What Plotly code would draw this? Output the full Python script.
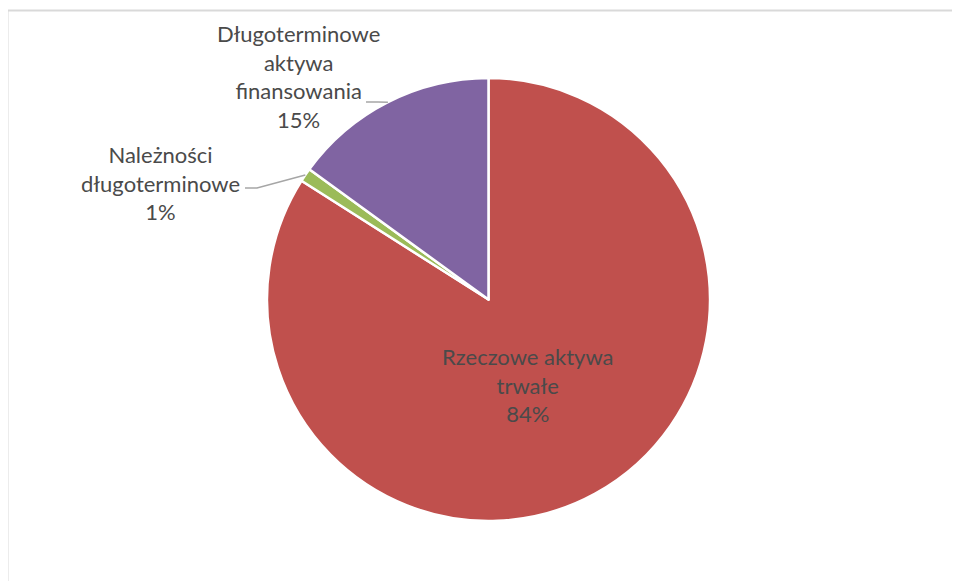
import math
import plotly.graph_objects as go

labels = ["Rzeczowe aktywa trwałe", "Należności długoterminowe", "Długoterminowe aktywa finansowania"]
label_text = ["Rzeczowe aktywa<br>trwałe", "Należności<br>długoterminowe", "Długoterminowe<br>aktywa<br>finansowania"]
values = [84, 1, 15]
colors = ["#C0504D", "#9BBB59", "#8064A2"]

# page body has an 8px margin; work in page px and shift into figure px
OFF = 8
W, H = 960 - OFF, 581 - OFF
cx, cy, r = 488.5 - OFF, 299.5 - OFF, 221.5

def px(x, y):
    return x / W, 1 - y / H

def pg(x, y):
    return px(x - OFF, y - OFF)

fig = go.Figure(go.Pie(
    labels=labels, values=values, sort=False, direction="clockwise", rotation=0,
    marker=dict(colors=colors, line=dict(color="white", width=2.5)),
    textinfo="none", hoverinfo="label+percent", showlegend=False,
    domain=dict(x=[(cx - r) / W, (cx + r) / W], y=[1 - (cy + r) / H, 1 - (cy - r) / H]),
))

total = sum(values)
font = dict(family="Lato, 'Open Sans', sans-serif", size=22, color="#4a4a4a")

# label placement (page px, centre of text block)
label_pos = [(527, 385), (160, 183), (298, 77)]
leader_end = [None, (245, 188), (366, 102)]

cum = 0
for i, v in enumerate(values):
    mid = (cum + v / 2) / total * 2 * math.pi
    cum += v
    pct = round(v / total * 100)
    ax_, ay_ = pg(*label_pos[i])
    fig.add_annotation(x=ax_, y=ay_, xref="paper", yref="paper",
                       text=f"{label_text[i]}<br>{pct}%", showarrow=False,
                       font=font, align="center", xanchor="center", yanchor="middle")
    if leader_end[i]:
        ex, ey = px(cx + r * math.sin(mid), cy - r * math.cos(mid))
        sx, sy = leader_end[i]
        x0, y0 = pg(sx, sy)
        x1, y1 = pg(sx + 12, sy)
        fig.add_shape(type="path", xref="paper", yref="paper",
                      path=f"M {x0} {y0} L {x1} {y1} L {ex} {ey}",
                      line=dict(color="#A6A6A6", width=1.5))

# chart frame
fx, fy = pg(7.5, 10.5)
fig.add_shape(type="path", xref="paper", yref="paper",
              path=f"M {fx} -0.05 L {fx} {fy} L 1.05 {fy}",
              line=dict(color="#D9D9D9", width=2))

fig.update_layout(width=W, height=H, margin=dict(l=0, r=0, t=0, b=0),
                  paper_bgcolor="white", plot_bgcolor="white")
fig.write_html("out.html")
